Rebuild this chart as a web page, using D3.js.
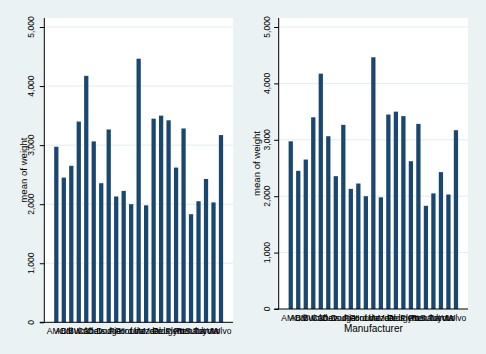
<!DOCTYPE html>
<html>
<head>
<meta charset="utf-8">
<script src="https://cdn.jsdelivr.net/npm/d3@7"></script>
<style>
  body { margin: 0; background: #eaf2f3; }
  svg { display: block; font-family: "Liberation Sans", Arial, sans-serif; }
</style>
</head>
<body>
<div id="chart"></div>
<script>
// Data (mean weight by manufacturer)
const makes = ["AMC", "Audi", "BMW", "Buick", "Cad.", "Chev.", "Datsun", "Dodge", "Fiat", "Ford",
  "Honda", "Linc.", "Mazda", "Merc.", "Olds", "Peugeot", "Plym.", "Pont.", "Renault", "Subaru",
  "Toyota", "VW", "Volvo"];
const meanWeight = [2973, 2450, 2650, 3399, 4173, 3063, 2355, 3265, 2130, 2225,
  2000, 4463, 1980, 3448, 3499, 3420, 2620, 3282, 1830, 2050,
  2427, 2030, 3170];
const yTicks = [0, 1000, 2000, 3000, 4000, 5000];
const yTitle = "mean of weight";
const xTitle = "Manufacturer";

// Dimensions
let w = 486, h = 354;
let svg = d3.select("#chart").append("svg").attr("width", w).attr("height", h);
svg.append("rect").attr("width", w).attr("height", h).attr("fill", "#eaf2f3");

let fmt = d3.format(",");

// Draw one panel
function panel(p) {
  let g = svg.append("g");

  let xScale = d3.scaleBand().domain(makes).range([p.x0, p.x1]).paddingInner(0.43).paddingOuter(1.32);
  let yScale = d3.scaleLinear().domain([0, 5000]).range([p.y1, p.yTop]);

  // Plot region
  g.append("rect").attr("x", p.x0).attr("y", p.y0).attr("width", p.x1 - p.x0).attr("height", p.y1 - p.y0).attr("fill", "#fff");

  // Gridlines
  g.selectAll(".grid").data(yTicks.filter((d) => d > 0)).enter().append("line")
    .attr("x1", p.x0).attr("x2", p.x1)
    .attr("y1", (d) => yScale(d)).attr("y2", (d) => yScale(d))
    .attr("stroke", "#e3ecef").attr("stroke-width", 1);

  // Bars
  g.selectAll(".bar").data(meanWeight).enter().append("rect")
    .attr("x", (d, i) => xScale(makes[i]))
    .attr("width", xScale.bandwidth())
    .attr("y", (d) => yScale(d))
    .attr("height", (d) => p.y1 - yScale(d))
    .attr("fill", "#1a476f");

  // Y axis
  let yAxis = d3.axisLeft(yScale).tickValues(yTicks).tickSize(4.5).tickFormat("");
  let ya = g.append("g").attr("transform", "translate(" + p.x0 + ",0)").call(yAxis);
  ya.select(".domain").attr("d", "M0," + p.y0 + "V" + p.y1).attr("stroke", "#000");
  ya.selectAll(".tick line").attr("stroke", "#000");

  // Y tick labels (rotated)
  g.selectAll(".ylab").data(yTicks).enter().append("text")
    .attr("transform", (d) => "translate(" + (p.x0 - p.yLabOff) + "," + yScale(d) + ") rotate(-90)")
    .attr("text-anchor", "middle").attr("font-size", 8.5).attr("fill", "#000")
    .text((d) => fmt(d));

  // Y title
  g.append("text")
    .attr("transform", "translate(" + (p.x0 - p.yTitleOff) + "," + ((p.y0 + p.y1) / 2) + ") rotate(-90)")
    .attr("text-anchor", "middle").attr("font-size", 9.6).attr("fill", "#000")
    .text(yTitle);

  // X axis
  g.append("line").attr("x1", p.x0 - 4.5).attr("x2", p.x1).attr("y1", p.y1).attr("y2", p.y1).attr("stroke", "#000");
  g.selectAll(".xlab").data(makes).enter().append("text")
    .attr("x", (d) => xScale(d) + xScale.bandwidth() / 2)
    .attr("y", p.y1 + 12)
    .attr("text-anchor", "middle").attr("font-size", 8.5).attr("fill", "#000")
    .text((d) => d);

  if (p.showXTitle) {
    g.append("text").attr("x", (p.x0 + p.x1) / 2).attr("y", p.y1 + 23)
      .attr("text-anchor", "middle").attr("font-size", 10).attr("fill", "#000")
      .text(xTitle);
  }
}

panel({ x0: 44.3, x1: 233, y0: 18, y1: 322.3, yTop: 27, yLabOff: 10, yTitleOff: 17, showXTitle: false });
panel({ x0: 278.7, x1: 468, y0: 18, y1: 309, yTop: 27, yLabOff: 8.5, yTitleOff: 19, showXTitle: true });
</script>
</body>
</html>
